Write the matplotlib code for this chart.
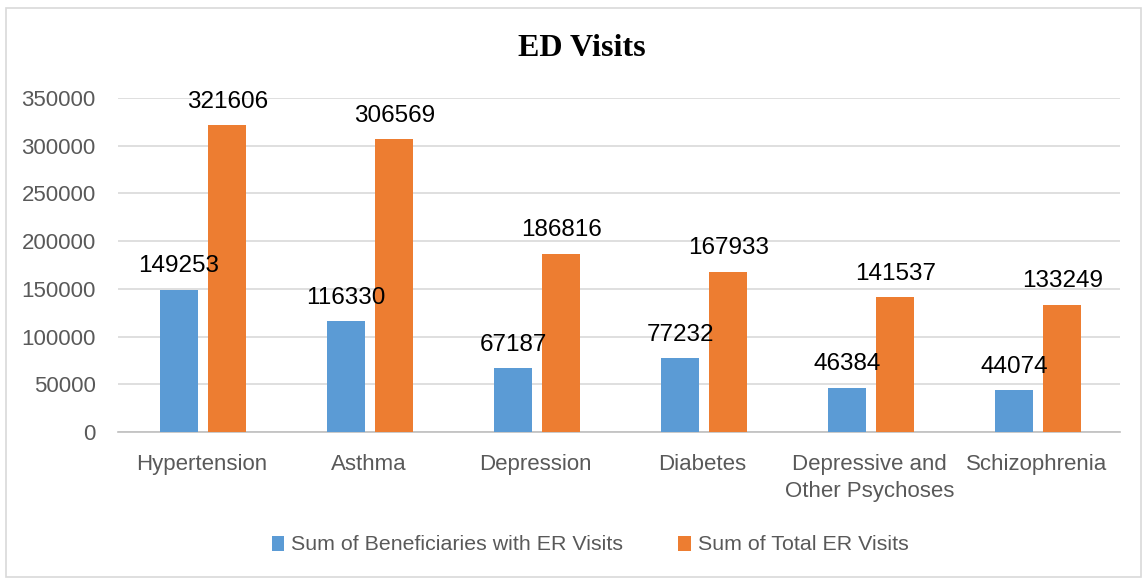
import numpy as np
import matplotlib.pyplot as plt
from matplotlib.patches import Rectangle

categories = ["Hypertension", "Asthma", "Depression", "Diabetes",
              "Depressive and\nOther Psychoses", "Schizophrenia"]
beneficiaries = [149253, 116330, 67187, 77232, 46384, 44074]
total_visits = [321606, 306569, 186816, 167933, 141537, 133249]
series_names = ["Sum of Beneficiaries with ER Visits", "Sum of Total ER Visits"]

blue = "#5B9BD5"
orange = "#ED7D31"
font = "Liberation Sans"

fig = plt.figure(figsize=(11.46, 5.79), dpi=100)
ax = fig.add_axes([118 / 1146, 1 - 432 / 579, (1120 - 118) / 1146, (432 - 98) / 579])

# outer chart border
fig.patches.append(Rectangle((6 / 1146, 2 / 579), 1135 / 1146, 569 / 579,
                             transform=fig.transFigure, fill=False,
                             edgecolor="#D9D9D9", linewidth=1.2))

x = np.arange(len(categories))
width = 0.228
offset = 0.144
b1 = ax.bar(x - offset + 0.01, beneficiaries, width, color=blue, label=series_names[0], zorder=3)
b2 = ax.bar(x + offset + 0.01, total_visits, width, color=orange, label=series_names[1], zorder=3)

for bars, vals in ((b1, beneficiaries), (b2, total_visits)):
    for rect, v in zip(bars, vals):
        ax.annotate(str(v), (rect.get_x() + rect.get_width() / 2, v),
                    xytext=(0, 12.5), textcoords="offset points",
                    ha="center", va="baseline", fontsize=17.5,
                    family=font, color="black", zorder=4)

ax.set_xlim(-0.5, len(categories) - 0.5)
ax.set_ylim(0, 350000)
ax.set_yticks(np.arange(0, 350001, 50000))
ax.yaxis.grid(True, color="#D9D9D9", linewidth=1.2, zorder=0)
ax.set_axisbelow(True)
for s in ("top", "right", "left"):
    ax.spines[s].set_visible(False)
ax.spines["bottom"].set_color("#BFBFBF")
ax.spines["bottom"].set_linewidth(1.2)

ax.set_xticks(x)
ax.set_xticklabels(categories, fontsize=16, family=font, color="#595959",
                   linespacing=1.35)
ax.tick_params(axis="x", length=0, pad=16)
ax.tick_params(axis="y", length=0, pad=16, labelsize=16, labelcolor="#595959")
for t in ax.get_yticklabels():
    t.set_family(font)

fig.text(582 / 1146, 1 - 48 / 579, "ED Visits", ha="center", va="center",
         fontsize=23, fontweight="bold", family="Liberation Serif")

fig.legend(handles=[b1, b2], labels=series_names, loc="center",
           bbox_to_anchor=(590 / 1146, 1 - 545 / 579), ncol=2, frameon=False,
           prop={"family": font, "size": 15.4}, labelcolor="#595959",
           handlelength=0.6, handleheight=0.7, handletextpad=0.3,
           columnspacing=2.6)

fig.savefig("out.png", dpi=100)
